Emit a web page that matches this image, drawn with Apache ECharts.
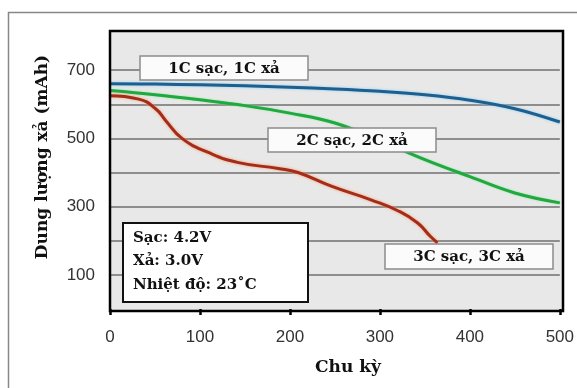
<!DOCTYPE html>
<html>
<head>
<meta charset="utf-8">
<script src="https://cdn.jsdelivr.net/npm/echarts@6/dist/echarts.min.js"></script>
<style>
  html, body { margin: 0; padding: 0; background: #fff; }
  #chart { width: 577px; height: 388px; }
</style>
</head>
<body>
<div id="chart"></div>
<script>
// chu kỳ (x) và dung lượng xả (mAh)
var cycles = [0, 50, 100, 150, 200, 250, 300, 350, 400, 450, 500];
var cap1C = [660, 659, 657, 654, 650, 645, 638, 628, 612, 587, 548];
var cap2C = [640, 628, 613, 596, 574, 545, 494, 438, 388, 340, 311];
var cycles3C = [0, 32, 51, 62, 80, 110, 143, 187, 209, 246, 290, 320, 342, 356, 364];
var cap3C = [625, 615, 586, 552, 500, 458, 429, 412, 400, 360, 320, 288, 252, 213, 194];
var yLabels = [100, 300, 500, 700];
var seriesNames = ["1C sạc, 1C xả", "2C sạc, 2C xả", "3C sạc, 3C xả"];
var infoLines = ["Sạc: 4.2V", "Xả: 3.0V", "Nhiệt độ: 23˚C"];

function pairs(xs, ys) {
  return xs.map(function (x, i) { return [x, ys[i]]; });
}

var serif = "DejaVu Serif";
var myChart = echarts.init(document.getElementById("chart"));

function tag(text, x, y, w, h) {
  return [
    { type: "rect", z: 40, shape: { x: x, y: y, width: w, height: h },
      style: { fill: "#fbfbfb", stroke: "#8c8c8c", lineWidth: 1.5 } },
    { type: "text", z: 41, x: x + w / 2, y: y + h / 2 + 1,
      style: { text: text, font: "bold 15px '" + serif + "'", fill: "#111",
               align: "center", verticalAlign: "middle" } },
  ];
}

var infoFont = "bold 15px '" + serif + "'";

var option = {
  animation: false,
  grid: { left: 110, right: 14, top: 36, bottom: 79 },
  xAxis: {
    type: "value",
    min: 0,
    max: 500,
    interval: 100,
    offset: 2,
    axisLine: { show: false },
    axisTick: { show: true, length: 6, lineStyle: { color: "#000", width: 2.5 } },
    axisLabel: { color: "#333", fontFamily: "Liberation Sans", fontSize: 17, margin: 18 },
    splitLine: { show: false },
  },
  yAxis: {
    type: "value",
    min: 0,
    max: 800,
    interval: 100,
    axisLine: { show: false },
    axisTick: { show: false },
    axisLabel: {
      color: "#333",
      fontFamily: "Liberation Sans",
      fontSize: 17,
      margin: 15,
      formatter: function (v) { return yLabels.indexOf(v) >= 0 ? String(v) : ""; },
    },
    splitLine: {
      show: true,
      lineStyle: {
        width: 2,
        color: ["transparent", "#8e8e8e", "#8e8e8e", "#8e8e8e", "#8e8e8e",
                "#8e8e8e", "#8e8e8e", "#8e8e8e", "transparent"],
      },
    },
  },
  graphic: [].concat(
    [
      // khung ngoài
      { type: "rect", z: -20, shape: { x: 8.5, y: 12.5, width: 600, height: 400 },
        style: { fill: "#fff", stroke: "#888", lineWidth: 1.5 } },
      // nền vùng vẽ
      { type: "rect", z: -10, shape: { x: 110, y: 31, width: 453, height: 280 },
        style: { fill: "#e8e8e8" } },
      // khung vùng vẽ
      { type: "rect", z: 30, shape: { x: 110, y: 31, width: 453, height: 280 },
        style: { fill: "none", stroke: "#000", lineWidth: 2.5 } },
      { type: "text", z: 30, x: 43, y: 157, rotation: Math.PI / 2,
        style: { text: "Dung lượng xả (mAh)", font: "bold 17px '" + serif + "'", fill: "#111",
                 align: "center", verticalAlign: "middle" } },
      { type: "text", z: 30, x: 348, y: 368,
        style: { text: "Chu kỳ", font: "bold 17px '" + serif + "'", fill: "#111",
                 align: "center", verticalAlign: "middle" } },
      { type: "rect", z: 40, shape: { x: 123, y: 223, width: 185, height: 79 },
        style: { fill: "#fff", stroke: "#111", lineWidth: 2 } },
      { type: "text", z: 41, x: 133, y: 238,
        style: { text: infoLines[0], font: infoFont, fill: "#111", verticalAlign: "middle" } },
      { type: "text", z: 41, x: 133, y: 261,
        style: { text: infoLines[1], font: infoFont, fill: "#111", verticalAlign: "middle" } },
      { type: "text", z: 41, x: 133, y: 285,
        style: { text: infoLines[2], font: infoFont, fill: "#111", verticalAlign: "middle" } },
    ],
    tag(seriesNames[0], 140, 56, 168, 24),
    tag(seriesNames[1], 268, 128, 168, 24),
    tag(seriesNames[2], 385, 244, 168, 25)
  ),
  series: [
    {
      name: seriesNames[0],
      type: "line",
      data: pairs(cycles, cap1C),
      smooth: 0.4,
      showSymbol: false,
      lineStyle: { color: "#1d5f8e", width: 3, shadowColor: "#8fd0f0", shadowBlur: 3 },
    },
    {
      name: seriesNames[1],
      type: "line",
      data: pairs(cycles, cap2C),
      smooth: 0.4,
      showSymbol: false,
      lineStyle: { color: "#1fa93f", width: 3, shadowColor: "#8fe0a0", shadowBlur: 2 },
    },
    {
      name: seriesNames[2],
      type: "line",
      data: pairs(cycles3C, cap3C),
      smooth: 0.5,
      showSymbol: false,
      lineStyle: { color: "#a62c1a", width: 3, shadowColor: "#f0a070", shadowBlur: 3 },
    },
  ],
};
myChart.setOption(option);
window.addEventListener("resize", function () {
  myChart.resize();
});
</script>
</body>
</html>
